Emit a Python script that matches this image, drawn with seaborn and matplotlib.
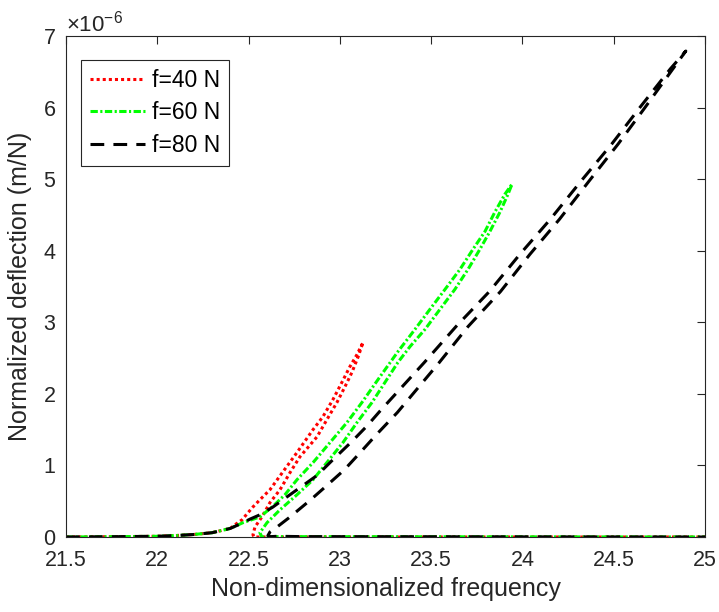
import numpy as np
import pandas as pd
import matplotlib
matplotlib.use("Agg")
import matplotlib.pyplot as plt
from matplotlib.ticker import ScalarFormatter
import seaborn as sns

# ---------------- data (deflection in units of 1e-6 m/N) ----------------
common_freq = [21.5, 21.8, 22.0, 22.1, 22.2, 22.3, 22.4]
common_defl = [0.0, 0.005, 0.01, 0.02, 0.035, 0.06, 0.12]

# f = 40 N
red_up_freq = [22.425, 22.464, 22.497, 22.524, 22.562, 22.617, 22.688, 22.765,
               22.853, 22.907, 22.962, 23.011, 23.055, 23.094, 23.127]
red_up_defl = [0.17, 0.24, 0.34, 0.42, 0.52, 0.66, 0.91, 1.18,
               1.50, 1.68, 1.92, 2.16, 2.38, 2.55, 2.72]
red_dn_freq = [23.099, 23.066, 23.028, 22.984, 22.929, 22.875, 22.781, 22.727,
               22.672, 22.617, 22.573, 22.535, 22.524, 22.53, 23.0, 25.0]
red_dn_defl = [2.51, 2.30, 2.10, 1.88, 1.64, 1.40, 1.12, 0.90,
               0.66, 0.48, 0.28, 0.14, 0.03, 0.0, 0.0, 0.0]

# f = 60 N
grn_up_freq = [22.469, 22.562, 22.634, 22.699, 22.765, 22.853, 22.946, 23.039,
               23.121, 23.22, 23.318, 23.411, 23.493, 23.576, 23.658, 23.729,
               23.795, 23.849, 23.904, 23.943]
grn_up_defl = [0.20, 0.28, 0.43, 0.59, 0.80, 1.04, 1.32, 1.60,
               1.88, 2.24, 2.59, 2.90, 3.18, 3.46, 3.74, 4.02,
               4.27, 4.54, 4.79, 4.93]
grn_dn_freq = [23.921, 23.877, 23.822, 23.767, 23.702, 23.630, 23.548, 23.466,
               23.384, 23.318, 23.176, 23.094, 23.017, 22.929, 22.853, 22.765,
               22.672, 22.601, 22.562, 22.573, 22.65, 25.0]
grn_dn_defl = [4.79, 4.54, 4.27, 4.02, 3.74, 3.46, 3.18, 2.90,
               2.66, 2.44, 1.88, 1.60, 1.32, 1.04, 0.80, 0.59,
               0.38, 0.20, 0.06, 0.0, 0.005, 0.0]

# f = 80 N
blk_up_freq = [22.47, 22.508, 22.562, 22.634, 22.699, 22.765, 22.875, 22.962,
               23.072, 23.148, 23.220, 23.463, 23.636, 23.819, 23.986, 24.153,
               24.320, 24.489, 24.646, 24.810, 24.895]
blk_up_defl = [0.20, 0.25, 0.31, 0.42, 0.54, 0.66, 0.86, 1.08,
               1.35, 1.55, 1.76, 2.44, 2.94, 3.43, 3.95, 4.44,
               4.97, 5.49, 6.01, 6.54, 6.79]
blk_dn_freq = [24.824, 24.674, 24.524, 24.364, 24.203, 24.041, 23.880, 23.702,
               23.545, 23.315, 23.20, 23.115, 23.025, 22.92, 22.84, 22.727,
               22.656, 22.617, 22.606, 22.62, 22.66, 22.8, 25.0]
blk_dn_defl = [6.54, 6.01, 5.49, 4.97, 4.44, 3.95, 3.43, 2.94,
               2.44, 1.74, 1.43, 1.19, 0.94, 0.70, 0.52, 0.28,
               0.14, 0.07, 0.02, 0.005, 0.01, 0.005, 0.0]

labels = ["f=40 N", "f=60 N", "f=80 N"]
colors = ["#ff0000", "#00ff00", "#000000"]
SCALE = 1e-6

def build(up_f, up_d, dn_f, dn_d):
    f = list(common_freq) + list(up_f) + list(dn_f)
    d = list(common_defl) + list(up_d) + list(dn_d)
    return pd.DataFrame({"freq": f, "defl": np.array(d) * SCALE})

frames = [build(red_up_freq, red_up_defl, red_dn_freq, red_dn_defl),
          build(grn_up_freq, grn_up_defl, grn_dn_freq, grn_dn_defl),
          build(blk_up_freq, blk_up_defl, blk_dn_freq, blk_dn_defl)]

# ---------------- style ----------------
sns.set_theme(style="white")
plt.rcParams["font.family"] = ["Liberation Sans", "DejaVu Sans"]
plt.rcParams["mathtext.fontset"] = "custom"
plt.rcParams["mathtext.rm"] = "Liberation Sans"
plt.rcParams["mathtext.it"] = "Liberation Sans:italic"
txt = "#262626"

fig = plt.figure(figsize=(7.19, 6.12), dpi=100)
ax = fig.add_axes([66/719, 1-537/612, (705-66)/719, (537-36)/612])

dash_styles = [(0, (1.0, 1.0)), (0, (2.4, 0.8, 0.7, 0.8)), (0, (4.5, 3.0))]
for df, lab, col, ls in zip(frames, labels, colors, dash_styles):
    sns.lineplot(data=df, x="freq", y="defl", sort=False, estimator=None,
                 color=col, linestyle=ls, linewidth=2.2, label=lab, ax=ax)

ax.set_xlim(21.5, 25)
ax.set_ylim(0, 7e-6)
ax.set_xticks(np.arange(21.5, 25.01, 0.5))
ax.set_xticklabels(["21.5", "22", "22.5", "23", "23.5", "24", "24.5", "25"])
ax.set_yticks(np.arange(0, 7.01, 1) * SCALE)
fmt = ScalarFormatter(useMathText=True)
fmt.set_powerlimits((-3, 3))
ax.yaxis.set_major_formatter(fmt)

ax.tick_params(direction="in", top=True, right=True, length=6, width=0.8,
               colors=txt, labelsize=15.5)
ax.tick_params(axis="x", pad=9)
ax.tick_params(axis="y", pad=7)
ax.yaxis.get_offset_text().set_fontsize(16)
ax.yaxis.get_offset_text().set_color(txt)
for s in ax.spines.values():
    s.set_visible(True)
    s.set_color(txt)
    s.set_linewidth(0.8)

ax.set_xlabel("Non-dimensionalized frequency", fontsize=18, color=txt, labelpad=5)
ax.set_ylabel("Normalized deflection (m/N)", fontsize=18, color=txt, labelpad=8)

leg = ax.legend(loc="upper left", bbox_to_anchor=((81-66)/639, (537-60)/501),
                borderaxespad=0, fancybox=False, framealpha=1, edgecolor=txt,
                fontsize=16.5, handlelength=2.4, handletextpad=0.3,
                labelspacing=0.42, borderpad=0.38)
leg.get_frame().set_linewidth(0.8)
for t in leg.get_texts():
    t.set_color("black")

fig.savefig("out.png", dpi=100)
